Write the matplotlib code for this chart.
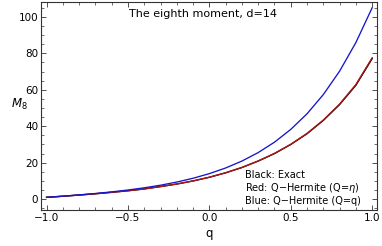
import matplotlib
matplotlib.use('Agg')
import matplotlib.pyplot as plt
from matplotlib.ticker import MultipleLocator

q = [-1.0, -0.9, -0.8, -0.7, -0.6, -0.5, -0.4, -0.3, -0.2, -0.1, 0.0,
     0.1, 0.2, 0.3, 0.4, 0.5, 0.6, 0.7, 0.8, 0.9, 1.0]
# Q-Hermite with Q=q
blue = [1.0, 1.63, 2.33, 3.11, 3.99, 5.02, 6.22, 7.65, 9.38, 11.46, 14.0,
        17.10, 20.90, 25.55, 31.26, 38.27, 46.85, 57.37, 70.23, 85.91, 105.0]
# Q-Hermite with Q=eta
red = [1.0, 1.6, 2.25, 2.95, 3.75, 4.6, 5.6, 6.9, 8.3, 10.0, 12.05,
       14.48, 17.41, 20.96, 25.1, 30.1, 36.1, 43.4, 52.2, 62.9, 77.6]
# exact
black = [1.0, 1.6, 2.25, 2.95, 3.75, 4.6, 5.6, 6.9, 8.3, 10.0, 12.0,
         14.45, 17.35, 20.9, 25.0, 30.0, 35.9, 43.2, 51.9, 62.5, 77.1]

fig = plt.figure(figsize=(3.82, 2.46), dpi=100)
ax = fig.add_axes([0.107, 0.146, 0.880, 0.846])

ax.plot(q, black, color='black', lw=1.0)
ax.plot(q, red, color='#b41414', lw=0.95)
ax.plot(q, blue, color='#1515cc', lw=0.95)

ax.set_xlim(-1.035, 1.03)
ax.set_ylim(-6, 108.2)
ax.xaxis.set_major_locator(MultipleLocator(0.5))
ax.xaxis.set_minor_locator(MultipleLocator(0.1))
ax.yaxis.set_major_locator(MultipleLocator(20))
ax.yaxis.set_minor_locator(MultipleLocator(5))
ax.tick_params(which='both', direction='in', top=True, right=True,
               labelsize=7.5, colors='#333333', labelcolor='black', pad=2)
ax.tick_params(which='major', length=3.5, width=0.6)
ax.tick_params(which='minor', length=2, width=0.5)
ax.set_xticks([-1.0, -0.5, 0.0, 0.5, 1.0])
ax.set_xticklabels(['\u22121.0', '\u22120.5', '0.0', '0.5', '1.0'])
for s in ax.spines.values():
    s.set_linewidth(0.8)
    s.set_color('#333333')

ax.set_xlabel('q', fontsize=8.5, labelpad=3)
ax.set_ylabel('$M_8$', fontsize=8.5, rotation=0, labelpad=8)
ax.yaxis.set_label_coords(-0.065, 0.47)

ax.text(0.483, 0.94, 'The eighth moment, d=14', transform=ax.transAxes,
        ha='center', va='center', fontsize=8)
ax.text(0.607, 0.168, 'Black: Exact', transform=ax.transAxes,
        va='center', fontsize=7)
ax.text(0.607, 0.106, 'Red: Q\u2212Hermite (Q=$\\eta$)', transform=ax.transAxes,
        va='center', fontsize=7)
ax.text(0.607, 0.046, 'Blue: Q\u2212Hermite (Q=q)', transform=ax.transAxes,
        va='center', fontsize=7)

fig.savefig('out.png', dpi=100)
